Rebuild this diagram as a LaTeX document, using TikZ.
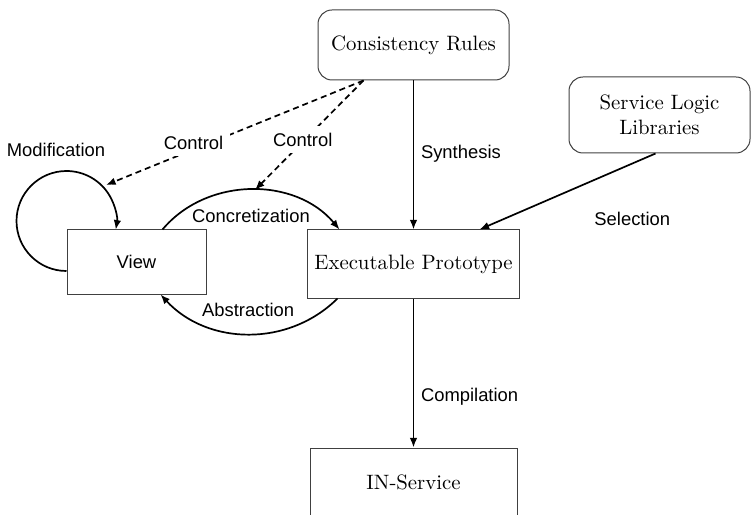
\documentclass[tikz,border=0pt]{standalone}
\usepackage{fontspec}
\newfontfamily\lblfont{Liberation Sans}
\usetikzlibrary{arrows.meta}

\tikzset{
  block/.style={draw=black!75, line width=0.5pt, font=\fontsize{10.4}{12.5}\selectfont},
  rblock/.style={block, rounded corners=7pt},
  lbl/.style={font=\lblfont\fontsize{9.2}{11}\selectfont},
  flow/.style={->, line width=0.85pt},
  ctrl/.style={flow, dash pattern=on 3pt off 2pt}
}

\begin{document}
\begin{tikzpicture}[x=0.5pt, y=0.5pt, >={Latex[length=4.8pt,width=3.8pt]}]

\useasboundingbox (0,0) rectangle (753,514);
\clip (0,0) rectangle (753,514);

% boxes
\node[rblock, minimum width=95.5pt, minimum height=35pt] (rules) at (413.5,469) {Consistency Rules};
\node[rblock, minimum width=90.5pt, minimum height=38pt, align=center] (sll) at (659.5,399) {Service Logic\\Libraries};
\node[block, minimum width=103.5pt, minimum height=34pt] (proto) at (413.5,250) {Executable Prototype};
\node[block, minimum width=69.5pt, minimum height=32pt, font=\lblfont\fontsize{9.2}{11}\selectfont] (view) at (136.5,252) {View};
\node[block, minimum width=103.5pt, minimum height=34pt] (ins) at (413.5,32) {IN-Service};

% main flow
\draw[flow] (rules) -- node[lbl, right, pos=0.49] {Synthesis} (proto);
\draw[flow] ([xshift=-2pt]sll.south) -- node[lbl, pos=0.2, below=18pt, xshift=6pt] {Selection} ([xshift=33pt]proto.north);
\draw[flow] (proto) -- node[lbl, right, pos=0.66] {Compilation} (ins);

% view <-> prototype
\draw[flow] ([xshift=13pt]view.north) to[bend left=50]
  node[lbl, below=6pt, pos=0.5] {Concretization}
  coordinate[pos=0.52] (apex) ([xshift=-37pt]proto.north);
\draw[flow] ([xshift=-38pt]proto.south) to[bend left=46]
  node[lbl, above=5pt, pos=0.5] {Abstraction} ([xshift=12pt]view.south);

% modification loop
\draw[flow] ([yshift=-4.5pt]view.west) arc[start angle=270, end angle=-10, radius=25pt];
\coordinate (modpt) at (106,329);
\node[lbl] (modlbl) at (56,364) {Modification};

% control
\draw[ctrl] ([xshift=-25pt]rules.south) -- node[lbl, fill=white, pos=0.66, yshift=3.5pt] {Control} (modpt);
\draw[ctrl] ([xshift=-25pt]rules.south) -- node[lbl, fill=white, pos=0.56, yshift=1pt] {Control} (apex);

\end{tikzpicture}
\end{document}
